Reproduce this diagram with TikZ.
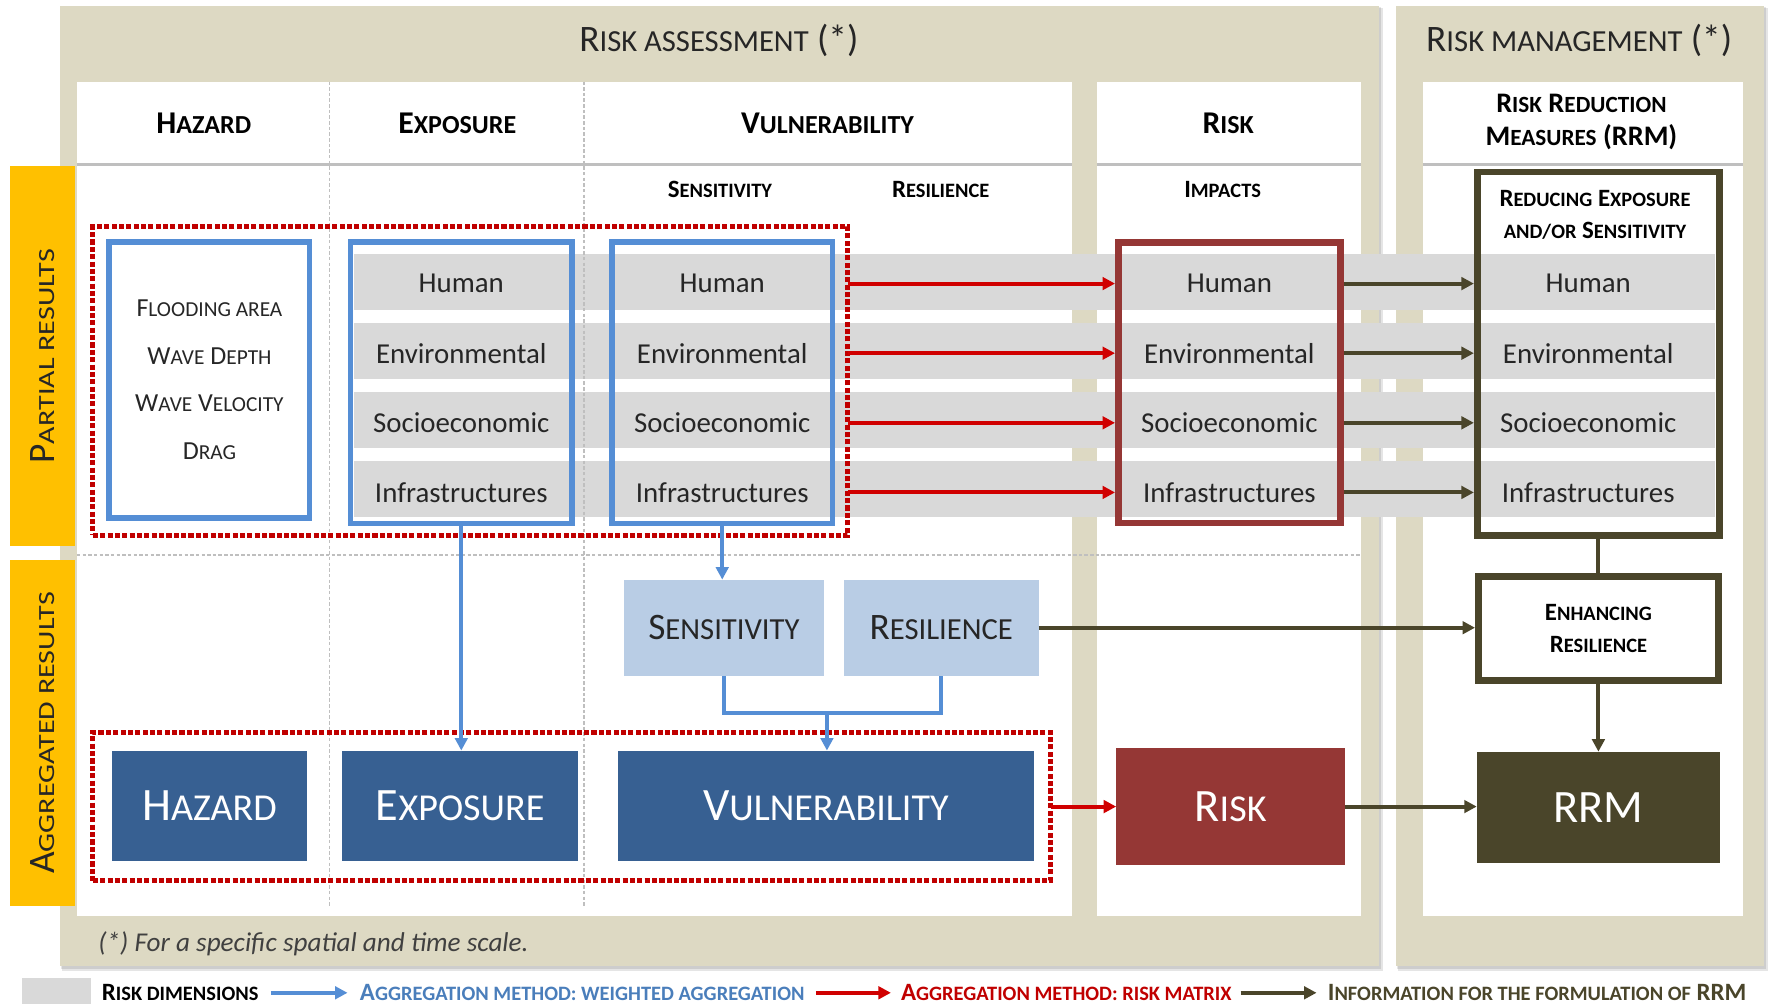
\documentclass[tikz,border=0pt]{standalone}
\usepackage{fontspec}
\setmainfont{Carlito}
\newfontfamily\lcfont{Carlito}[Scale=0.82]
\newfontfamily\lcwide{Carlito}[Scale=0.62, FakeStretch=1.3]
\newcommand{\lc}[1]{{\lcfont #1}}
\newcommand{\lw}[1]{{\lcwide #1}}
\usepackage{tikz}
\usetikzlibrary{arrows.meta,calc,positioning}
\definecolor{tanbg}{HTML}{DDD9C3}
\definecolor{sunny}{HTML}{FFC000}
\definecolor{band}{HTML}{D9D9D9}
\definecolor{lineblue}{HTML}{558ED5}
\definecolor{dotred}{HTML}{C00000}
\definecolor{arrred}{HTML}{D00000}
\definecolor{navy}{HTML}{376092}
\definecolor{paleblue}{HTML}{B9CDE5}
\definecolor{brick}{HTML}{953735}
\definecolor{olive}{HTML}{4A452A}
\definecolor{ink}{HTML}{262626}
\definecolor{legblue}{HTML}{4A7EBB}
\begin{document}
\begin{tikzpicture}[x=1pt,y=-1pt]
	\tikzstyle{every node} = [rectangle, inner sep=0pt, outer sep=0pt, text=ink]
	\tikzstyle{head} = [font=\fontsize{28}{34}\selectfont\bfseries, text=black]
	\tikzstyle{subhead} = [font=\fontsize{22}{28.5}\selectfont\bfseries, text=black, align=center]
	\tikzstyle{row} = [font=\fontsize{25.5}{30}\selectfont]
	\tikzstyle{bluebox} = [draw=lineblue, line width=5pt]
	\tikzstyle{reddots} = [draw=dotred, line width=4.5pt, dash pattern=on 4.5pt off 2pt]
	\tikzstyle{aggbox} = [fill=navy, text=white, font=\fontsize{41}{48}\selectfont]
	\tikzstyle{pale} = [fill=paleblue, font=\fontsize{33}{40}\selectfont]
	\tikzstyle{thickbox} = [draw=olive, line width=6pt]
	\tikzstyle{side} = [rotate=90, font=\fontsize{33}{38}\selectfont]
	\tikzstyle{blueline} = [draw=lineblue, line width=3.5pt]
	\tikzstyle{bluearrow} = [blueline, -{Triangle[width=11pt,length=11pt]}]
	\tikzstyle{redarrow} = [draw=arrred, line width=3.5pt, -{Triangle[width=11pt,length=11pt]}]
	\tikzstyle{oliveline} = [draw=olive, line width=3.5pt]
	\tikzstyle{olivearrow} = [oliveline, -{Triangle[width=11pt,length=11pt]}]
	\tikzstyle{legend} = [anchor=west, font=\fontsize{22}{26}\selectfont\bfseries]
	\tikzstyle{guide} = [draw=black!25, line width=1.5pt, dash pattern=on 3pt off 2pt]
\useasboundingbox (0,0) rectangle (1568,887);
\fill[white] (0,0) rectangle (1568,887);
	\fill[black, opacity=0.10] (55,7) rectangle (1222,858);
	\fill[black, opacity=0.10] (54,6) rectangle (1220,856);
	\fill[black, opacity=0.10] (1235,7) rectangle (1562,858);
	\fill[black, opacity=0.10] (1234,6) rectangle (1560,856);
	\fill[tanbg] (53,5) rectangle (1218,853);
	\fill[tanbg] (1233,5) rectangle (1558,853);
	\fill[white] (68,72) rectangle (947,809);
	\fill[white] (969,72) rectangle (1202,809);
	\fill[white] (1257,72) rectangle (1540,809);
	\fill[sunny] (9,147) rectangle (66,482);
	\fill[sunny] (9,495) rectangle (66,800);
	\path[draw, draw=black!25, line width=2.5pt] (68,145) -- (947,145);
	\path[draw, draw=black!25, line width=2.5pt] (969,145) -- (1202,145);
	\path[draw, draw=black!25, line width=2.5pt] (1257,145) -- (1540,145);
	\foreach \y in {249,310,371,432}
		\fill[band] (313,\y-24.5) rectangle (1515,\y+24.5);
	\path[guide] (291,72) -- (291,800);
	\path[guide] (516,72) -- (516,800);
	\path[guide] (68,490) -- (1202,490);
\node[font=\fontsize{33}{40}\selectfont] (ta) at (635,36) {R\lc{ISK ASSESSMENT} (*)};
\node[font=\fontsize{33}{40}\selectfont] (tm) at (1395,36) {R\lc{ISK MANAGEMENT} (*)};
\node[side] (pa) at (37.5,314.5) {P\lw{ARTIAL RESULTS}};
\node[side] (ar) at (37.5,647.5) {A\lw{GGREGATED RESULTS}};
\node[head] (hh) at (180,109) {H\lc{AZARD}};
\node[head] (he) at (404,109) {E\lc{XPOSURE}};
\node[head] (hv) at (731,109) {V\lc{ULNERABILITY}};
\node[head] (hr) at (1085,109) {R\lc{ISK}};
\node[head, font=\fontsize{25}{29.5}\selectfont\bfseries, align=center] (hm) at (1397,108) {R\lc{ISK} R\lc{EDUCTION}\\M\lc{EASURES} (RRM)};
\node[subhead] (hs) at (636,167) {S\lc{ENSITIVITY}};
\node[subhead] (hl) at (831,167) {R\lc{ESILIENCE}};
\node[subhead] (hi) at (1080,167) {I\lc{MPACTS}};
\node[bluebox, minimum width=177pt, minimum height=244pt, align=center, font=\fontsize{23}{42}\selectfont] (hz) at (185,335.5) {F\lc{LOODING AREA}\\W\lc{AVE} D\lc{EPTH}\\W\lc{AVE} V\lc{ELOCITY}\\D\lc{RAG}};
\node[bluebox, minimum width=196pt, minimum height=249pt] (ex) at (407.5,338) {};
\node[bluebox, minimum width=195pt, minimum height=249pt] (sb) at (638,338) {};
\node[reddots, minimum width=667pt, minimum height=273pt] (pr) at (415.5,336.5) {};
\node[draw=brick, line width=6pt, minimum width=196pt, minimum height=248pt] (ri) at (1086,338) {};
\node[thickbox, minimum width=214pt, minimum height=321pt] (rb) at (1412,312.5) {};
\node[subhead] (rd) at (1409,190) {R\lc{EDUCING} E\lc{XPOSURE}\\\lc{AND/OR} S\lc{ENSITIVITY}};
	\foreach \t/\y [count=\i] in {Human/250.5, Environmental/312, Socioeconomic/373.5, Infrastructures/435} {
		\node[row] (e\i) at (407.5,\y) {\t};
		\node[row] (s\i) at (638,\y) {\t};
		\node[row] (r\i) at (1086,\y) {\t};
		\node[row] (m\i) at (1403,\y) {\t};
	}
	\foreach \i in {1,...,4} {
		\path[draw, redarrow, shorten >=3pt] (pr.east |- r\i) -- (ri.west |- r\i);
		\path[draw, olivearrow, shorten <=3pt, shorten >=3pt] (ri.east |- r\i) -- (rb.west |- r\i);
	}
\node[pale, minimum width=177pt, minimum height=85pt] (sa) at (639.5,554.5) {S\lc{ENSITIVITY}};
\node[pale, minimum width=172pt, minimum height=85pt] (ra) at (831.5,554.5) {R\lc{ESILIENCE}};
\node[thickbox, subhead, minimum width=212pt, minimum height=92pt] (en) at (1412,555) {E\lc{NHANCING}\\R\lc{ESILIENCE}};
\node[reddots, minimum width=846pt, minimum height=131pt] (ag) at (505,712.5) {};
\node[aggbox, minimum width=172pt, minimum height=98pt] (ha) at (185,712) {H\lc{AZARD}};
\node[aggbox, minimum width=208pt, minimum height=98pt] (ea) at (406.5,712) {E\lc{XPOSURE}};
\node[aggbox, minimum width=367pt, minimum height=98pt] (va) at (729.5,712) {V\lc{ULNERABILITY}};
\node[aggbox, fill=brick, minimum width=202pt, minimum height=103pt] (ka) at (1087,712.5) {R\lc{ISK}};
\node[aggbox, fill=olive, minimum width=215pt, minimum height=98pt] (rm) at (1412,713) {RRM};
\coordinate (jn) at (730.5,630);
	\path[draw, bluearrow] (ex.south) -- (ex.south |- ea.north);
	\path[draw, bluearrow] (sb.south) -- (sb.south |- sa.north);
	\path[draw, blueline] (sa.south) |- (jn) -| (ra.south);
	\path[draw, bluearrow] (jn) -- (jn |- va.north);
	\path[draw, olivearrow, shorten >=3pt] (ra.east) -- (ra.east -| en.west);
	\path[draw, oliveline] (rb.south) -- (rb.south |- en.north);
	\path[draw, olivearrow] (en.south) -- (en.south |- rm.north);
	\path[draw, redarrow] (ag.east |- ka.west) -- (ka.west);
	\path[draw, olivearrow] (ka.east) -- (ka.east -| rm.west);
\node[anchor=west, font=\fontsize{24}{28}\selectfont\itshape, text=black!75] (fn) at (87,834) {(*) For a specific spatial and time scale.};
\node[fill=band, minimum width=61pt, minimum height=23pt] (lg) at (49.5,875.5) {};
\node[legend, text=black] (l1) at (90,877) {R\lc{ISK DIMENSIONS}};
\node[legend, text=legblue] (l2) at (318,877) {A\lc{GGREGATION METHOD: WEIGHTED AGGREGATION}};
\node[legend, text=dotred] (l3) at (796,877) {A\lc{GGREGATION METHOD: RISK MATRIX}};
\node[legend, text=olive] (l4) at (1173,877) {I\lc{NFORMATION FOR THE FORMULATION OF} RRM};
	\path[draw, bluearrow, shorten <=11pt, shorten >=11pt] (l1.east) -- (l2.west);
	\path[draw, redarrow, shorten <=10pt, shorten >=9pt] (l2.east) -- (l3.west);
	\path[draw, olivearrow, shorten <=8pt, shorten >=10pt] (l3.east) -- (l4.west);
\end{tikzpicture}
\end{document}
